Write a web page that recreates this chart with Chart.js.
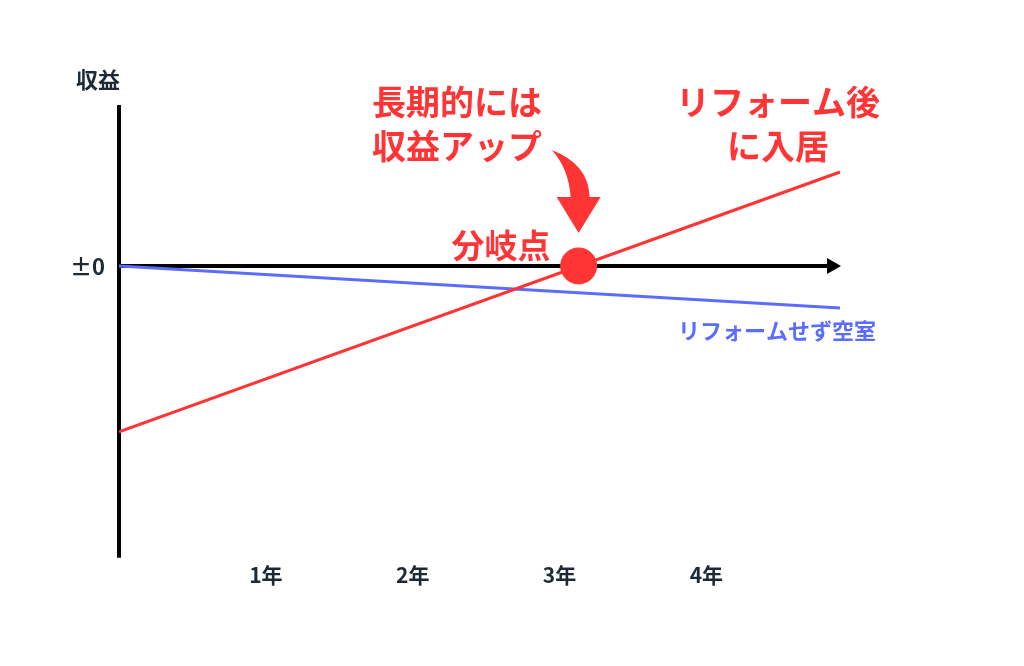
<!DOCTYPE html>
<html lang="ja">
<head>
<meta charset="utf-8">
<title>分岐点</title>
<script src="https://cdn.jsdelivr.net/npm/chart.js@4/dist/chart.umd.min.js"></script>
<style>
  html, body { margin: 0; padding: 0; background: #fff; }
  #wrap { width: 1024px; height: 666px; }
</style>
</head>
<body>
<div id="wrap"><canvas id="breakEvenChart" width="1024" height="666"></canvas></div>
<script>
// Data (x = years, y = relative income, 0 = ±0)
const yearTicks = [1, 2, 3, 4];
const yearLabels = ["1年", "2年", "3年", "4年"];
const reformYears = [0, 4.91];
const reformValues = [-1.0, 0.566];
const vacantYears = [0, 4.91];
const vacantValues = [0, -0.253];
const breakEvenYear = [3.13];
const breakEvenValue = [0];

const RED = "#ff3535";
const BLUE = "#5b6cff";
const DARK = "#1d2a35";
const FONT = "'Noto Sans CJK JP', 'Noto Sans', sans-serif";

const toPoints = (xs, ys) => xs.map((x, i) => ({ x: x, y: ys[i] }));

// Axes, arrow and the annotation texts
const decorPlugin = {
  id: "decor",
  beforeDatasetsDraw(chart) {
    const ctx = chart.ctx;
    const xs = chart.scales.x;
    const ys = chart.scales.y;
    const area = chart.chartArea;
    const x0 = xs.getPixelForValue(0);
    const y0 = ys.getPixelForValue(0);
    const xEnd = xs.getPixelForValue(xs.max);

    ctx.save();
    ctx.strokeStyle = "#000";
    ctx.lineWidth = 4;
    // vertical axis
    ctx.beginPath();
    ctx.moveTo(x0, area.top);
    ctx.lineTo(x0, area.bottom);
    ctx.stroke();
    // horizontal axis with arrow
    ctx.beginPath();
    ctx.moveTo(x0, y0);
    ctx.lineTo(xEnd - 6, y0);
    ctx.stroke();
    ctx.fillStyle = "#000";
    ctx.beginPath();
    ctx.moveTo(xEnd + 1, y0);
    ctx.lineTo(xEnd - 13, y0 - 8);
    ctx.lineTo(xEnd - 13, y0 + 8);
    ctx.closePath();
    ctx.fill();

    // axis texts
    ctx.fillStyle = DARK;
    ctx.font = "bold 22px " + FONT;
    ctx.textBaseline = "middle";
    ctx.textAlign = "center";
    ctx.fillText("収益", 98, 80);
    ctx.textAlign = "right";
    ctx.fillText("±0", 105, y0 + 1);
    ctx.restore();
  },
  afterDraw(chart) {
    const ctx = chart.ctx;
    const xs = chart.scales.x;
    const ys = chart.scales.y;
    const px = xs.getPixelForValue(breakEvenYear[0]);
    const py = ys.getPixelForValue(breakEvenValue[0]);

    ctx.save();
    ctx.fillStyle = RED;
    ctx.textBaseline = "middle";
    ctx.textAlign = "center";
    ctx.font = "bold 34px " + FONT;
    ctx.fillText("長期的には", 457, 102);
    ctx.fillText("収益アップ", 457, 146);
    ctx.fillText("リフォーム後", 778, 102);
    ctx.fillText("に入居", 778, 146);
    ctx.font = "bold 33px " + FONT;
    ctx.fillText("分岐点", 501, 245);

    ctx.fillStyle = BLUE;
    ctx.font = "bold 22px " + FONT;
    ctx.fillText("リフォームせず空室", 777, 331);

    // curved arrow pointing at the break-even point
    const tipY = py - 33;
    ctx.fillStyle = RED;
    ctx.beginPath();
    ctx.moveTo(px - 27, py - 116);
    ctx.quadraticCurveTo(px + 10, py - 102, px + 11, py - 69);
    ctx.lineTo(px - 8, py - 69);
    ctx.quadraticCurveTo(px - 10, py - 98, px - 27, py - 116);
    ctx.closePath();
    ctx.fill();
    ctx.beginPath();
    ctx.moveTo(px - 22, py - 69);
    ctx.lineTo(px + 22, py - 69);
    ctx.lineTo(px, tipY);
    ctx.closePath();
    ctx.fill();
    ctx.restore();
  }
};

new Chart(document.getElementById("breakEvenChart"), {
  type: "line",
  data: {
    datasets: [
      {
        label: "リフォーム後に入居",
        data: toPoints(reformYears, reformValues),
        borderColor: RED,
        borderWidth: 3,
        pointRadius: 0,
        order: 2
      },
      {
        label: "リフォームせず空室",
        data: toPoints(vacantYears, vacantValues),
        borderColor: BLUE,
        borderWidth: 3,
        pointRadius: 0,
        order: 3
      },
      {
        label: "分岐点",
        type: "scatter",
        data: toPoints(breakEvenYear, breakEvenValue),
        backgroundColor: RED,
        borderColor: RED,
        pointRadius: 18,
        pointHoverRadius: 18,
        order: 1
      }
    ]
  },
  options: {
    responsive: false,
    animation: false,
    events: [],
    layout: { padding: { left: 119, right: 184, top: 105, bottom: 73 } },
    plugins: { legend: { display: false }, tooltip: { enabled: false } },
    scales: {
      x: {
        type: "linear",
        min: 0,
        max: 4.91,
        grid: { display: false, drawTicks: false },
        border: { display: false },
        afterBuildTicks: (scale) => {
          scale.ticks = yearTicks.map((v) => ({ value: v }));
        },
        ticks: {
          padding: 5,
          color: DARK,
          font: { family: FONT, size: 21, weight: "bold" },
          callback: (value) => yearLabels[yearTicks.indexOf(value)]
        }
      },
      y: {
        display: false,
        min: -1.759,
        max: 0.97
      }
    }
  },
  plugins: [decorPlugin]
});
</script>
</body>
</html>
